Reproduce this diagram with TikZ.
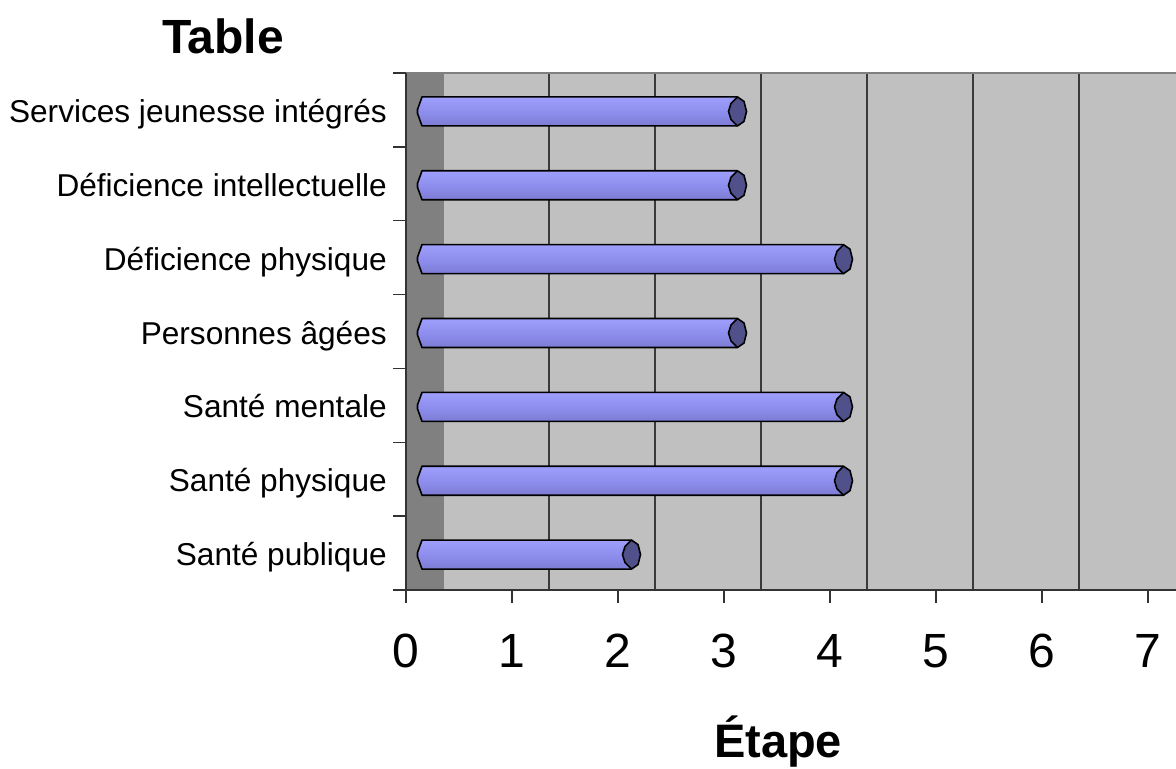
\documentclass[tikz,border=0pt]{standalone}
\usepackage{fontspec}
\setmainfont{Liberation Sans}
\usetikzlibrary{positioning}
\definecolor{plotgray}{HTML}{C0C0C0}
\definecolor{wallgray}{HTML}{808080}
\definecolor{barhi}{HTML}{9E9EFC}
\definecolor{barmid}{HTML}{8E8EEE}
\definecolor{barlo}{HTML}{7C7CD4}
\definecolor{capblue}{HTML}{50508A}
\definecolor{gridgray}{HTML}{3A3A3A}

\begin{document}
\begin{tikzpicture}[x=0.75pt,y=-0.75pt,line join=round, cat/.style={anchor=base east,inner sep=0pt,font=\fontsize{23.7}{26}\selectfont}, num/.style={anchor=base,inner sep=0pt,font=\fontsize{36}{40}\selectfont}, big/.style={anchor=base,inner sep=0pt,font=\fontsize{36}{40}\selectfont\bfseries}, barline/.style={draw=black,line width=1.2pt}, ]

 \useasboundingbox (0,0) rectangle (1176,768);

 % plot area
 \fill[plotgray] (406,73) rectangle (1176,590);
 \fill[wallgray] (406,73) rectangle (444,590);
 \foreach \k in {1,...,6}
  \draw[gridgray,line width=0.9pt] ({443+106*\k},73) -- ({443+106*\k},590);
 \draw[wallgray,line width=1.5pt] (393,73) -- (1176,73);
 \draw[black!80,line width=1pt] (406,73) -- (406,590) -- (1176,590);
 \foreach \k in {0,...,7}
  \draw[black!80,line width=1pt] (393,{73+517*\k/7}) -- (406,{73+517*\k/7});
 \foreach \k in {0,...,7}{
  \draw[black!80,line width=1pt] ({406+106*\k},590) -- ({406+106*\k},603);
  \node[num] (n\k) at ({406+106*\k},667) {\k};
 }

 % bars
 \foreach \lab/\val [count=\i from 0] in {Services jeunesse intégrés/3,Déficience intellectuelle/3,Déficience physique/4,Personnes âgées/3,Santé mentale/4,Santé physique/4,Santé publique/2}{
  \pgfmathsetmacro{\c}{73+517*(\i+0.5)/7+1.5}
  \pgfmathsetmacro{\t}{\c-14.5}
  \pgfmathsetmacro{\b}{\c+14.5}
  \pgfmathsetmacro{\e}{406+106*\val+13.5}
  \shade[top color=barhi,bottom color=barlo,middle color=barmid] (422,\t) -- (\e,\t) -- (\e,\b) -- (422,\b) -- (417.5,{\c+2}) -- (417.5,{\c-2}) -- cycle;
  \draw[barline] (\e,\t) -- (422,\t) -- (417.5,{\c-2}) -- (417.5,{\c+2}) -- (422,\b) -- (\e,\b);
  \path[barline,fill=capblue] (\e,\t) -- ({\e+6.5},{\c-10}) -- ({\e+9},\c) -- ({\e+6.5},{\c+10}) -- (\e,\b) -- ({\e-6.5},{\c+8}) -- ({\e-9},\c) -- ({\e-6.5},{\c-8}) -- cycle;
  \node[cat] (c\i) at (387,{\c+11}) {\lab};
 }

 \node[big] (title) at (223,53) {Table};
 \node[big,font=\fontsize{35.25}{40}\selectfont\bfseries] (xlab) at (778,757) {Étape};

\end{tikzpicture}
\end{document}
